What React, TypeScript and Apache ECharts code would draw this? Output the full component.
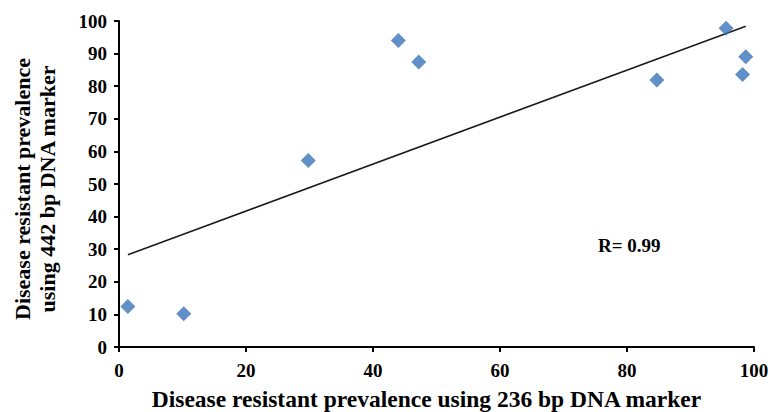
import React, { useEffect, useRef } from "react";
import * as echarts from "echarts";

const xValues = [1.4, 10.2, 29.8, 44.0, 47.2, 84.7, 95.6, 98.7, 98.2];
const yValues = [12.4, 10.2, 57.2, 94.0, 87.4, 81.9, 97.8, 89.0, 83.6];
const trendX = [1.4, 98.7];
const trendY = [28.3, 98.4];
const xTitle = "Disease resistant prevalence using 236 bp DNA marker";
const yTitle = "Disease resistant prevalence\nusing 442 bp DNA marker";
const rLabel = "R= 0.99";

const FONT = "'Liberation Serif', 'Times New Roman', serif";

export default function App() {
  const ref = useRef<HTMLDivElement>(null);
  useEffect(() => {
    const chart = echarts.init(ref.current!, null, { renderer: "svg" });
    chart.setOption({
      animation: false,
      backgroundColor: "#ffffff",
      grid: { left: 119, right: 14, top: 21, bottom: 65, containLabel: false, outerBoundsMode: "none" },
      xAxis: {
        type: "value",
        min: 0,
        max: 100,
        interval: 20,
        name: xTitle,
        nameLocation: "middle",
        nameGap: 40,
        nameTextStyle: {
          fontFamily: FONT,
          fontWeight: "bold",
          fontSize: 23.5,
          lineHeight: 23,
          color: "#000",
          padding: [0, 20, 0, 0],
        },
        axisLine: { show: true, lineStyle: { color: "#000", width: 2 } },
        axisTick: { show: true, length: 5, lineStyle: { color: "#000", width: 2 } },
        axisLabel: { fontFamily: FONT, fontWeight: "bold", fontSize: 19, color: "#000", margin: 14 },
        splitLine: { show: false },
      },
      yAxis: {
        type: "value",
        min: 0,
        max: 100,
        interval: 10,
        axisLine: { show: true, lineStyle: { color: "#000", width: 2 } },
        axisTick: { show: true, length: 5, lineStyle: { color: "#000", width: 2 } },
        axisLabel: { fontFamily: FONT, fontWeight: "bold", fontSize: 19, color: "#000", margin: 12 },
        splitLine: { show: false },
      },
      graphic: [
        {
          type: "text",
          x: 35,
          y: 189,
          rotation: Math.PI / 2,
          style: {
            text: yTitle,
            fontFamily: FONT,
            fontWeight: "bold",
            fontSize: 22,
            lineHeight: 25,
            fill: "#000",
            align: "center",
            verticalAlign: "middle",
          },
        },
        {
          type: "text",
          x: 598,
          y: 245,
          style: {
            text: rLabel,
            fontFamily: FONT,
            fontWeight: "bold",
            fontSize: 19,
            fill: "#000",
            align: "left",
            verticalAlign: "middle",
          },
        },
      ],
      series: [
        {
          type: "line",
          data: trendX.map((x, i) => [x, trendY[i]]),
          showSymbol: false,
          symbol: "none",
          lineStyle: { color: "#1a1a1a", width: 1.5 },
          z: 1,
        },
        {
          type: "scatter",
          data: xValues.map((x, i) => [x, yValues[i]]),
          symbol: "diamond",
          symbolSize: [15, 15],
          itemStyle: { color: "#3874B9" },
          z: 2,
        },
      ],
    });
    return () => chart.dispose();
  }, []);
  return <div ref={ref} style={{ width: 768, height: 412, position: "absolute", left: 0, top: 0 }} />;
}
